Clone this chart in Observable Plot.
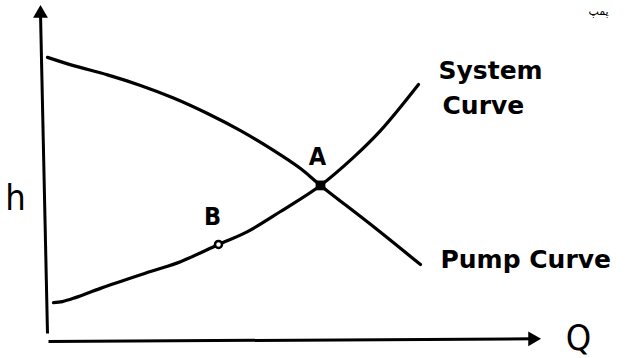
<!DOCTYPE html>
<html>
<head>
<meta charset="utf-8">
<script src="https://cdn.jsdelivr.net/npm/d3@7"></script>
<script src="https://cdn.jsdelivr.net/npm/@observablehq/plot@0.6"></script>
<style>
  html, body { margin: 0; padding: 0; background: #fff; }
</style>
</head>
<body>
<div id="chart"></div>
<script>
// Pump curve (head falls with flow)
const pumpQ = [0.6, 5.8, 12.6, 19.2, 25.8, 32.6, 39.2, 45.8, 51.2, 55.2, 65.2, 75.2];
const pumpH = [86.1, 83.6, 80.8, 77.6, 73.8, 69.1, 63.9, 57.9, 52.4, 47.3, 35.5, 23.3];

// System curve (head rises with flow)
const sysQ = [1.8, 3.6, 6.2, 11.2, 21.2, 27.2, 34.8, 40.6, 47.2, 55.2, 61.8, 67.2, 74.8];
const sysH = [11.8, 12.1, 13.3, 16.1, 21.2, 24.2, 29.4, 33.3, 39.4, 47.3, 55.8, 63.9, 77.9];

// Operating point A and point B
const pointNames = ["A", "B"];
const pointQ = [55.2, 34.8];
const pointH = [47.3, 29.4];

// Axes (start -> arrow head), in data units
const axisNames = ["h", "Q"];
const axisQ1 = [0.6, 0.8];
const axisH1 = [2.4, 0.0];
const axisQ2 = [-0.8, 97.6];
const axisH2 = [99.4, 0.8];
const axisHeadAngle = [0, 90];

// Labels
const curveLabels = ["System", "Curve", "Pump Curve"];
const curveLabelQ = [78.8, 79.6, 79.2];
const curveLabelH = [82.1, 71.5, 24.8];

const pointLabelQ = [54.6, 33.6];
const pointLabelH = [55.8, 37.6];

const axisLabelQ = [-5.8, 106.8];
const axisLabelH = [43.3, 0.9];

const noteText = ["پمپ"];
const noteQ = [110.8];
const noteH = [100.0];

const pump = pumpQ.map((q, i) => ({q, h: pumpH[i]}));
const system = sysQ.map((q, i) => ({q, h: sysH[i]}));
const points = pointNames.map((n, i) => ({n, q: pointQ[i], h: pointH[i]}));
const axes = axisNames.map((n, i) => ({n, q1: axisQ1[i], h1: axisH1[i], q2: axisQ2[i], h2: axisH2[i], a: axisHeadAngle[i]}));
const cLabels = curveLabels.map((t, i) => ({t, q: curveLabelQ[i], h: curveLabelH[i]}));
const pLabels = pointNames.map((t, i) => ({t, q: pointLabelQ[i], h: pointLabelH[i]}));
const aLabels = axisNames.map((t, i) => ({t, q: axisLabelQ[i], h: axisLabelH[i]}));
const notes = noteText.map((t, i) => ({t, q: noteQ[i], h: noteH[i]}));

const chart = Plot.plot({
  width: 628,
  height: 358,
  marginTop: 0, marginRight: 0, marginBottom: 0, marginLeft: 0,
  style: {background: "#fff", fontFamily: "DejaVu Sans"},
  x: {domain: [0, 100], range: [44, 544], axis: null},
  y: {domain: [0, 100], range: [341, 11], axis: null},
  marks: [
    Plot.link(axes, {x1: "q1", y1: "h1", x2: "q2", y2: "h2", stroke: "#000", strokeWidth: 3}),
    Plot.dot(axes, {x: "q2", y: "h2", symbol: "triangle", r: 5.5, fill: "#000", rotate: "a"}),
    Plot.line(pump, {x: "q", y: "h", curve: "catmull-rom", stroke: "#000", strokeWidth: 3.2}),
    Plot.line(system, {x: "q", y: "h", curve: "catmull-rom", stroke: "#000", strokeWidth: 3.2}),
    Plot.dot(points.filter(d => d.n === "A"), {x: "q", y: "h", symbol: "square", r: 5.5, fill: "#000"}),
    Plot.dot(points.filter(d => d.n === "B"), {x: "q", y: "h", r: 3.5, fill: "#fff", stroke: "#000", strokeWidth: 2.5}),
    Plot.text(cLabels, {
      x: "q", y: "h", text: "t", textAnchor: "start", lineAnchor: "middle",
      fontSize: 25, fontWeight: "bold", fill: "#000", fontFamily: "DejaVu Sans"
    }),
    Plot.text(pLabels, {
      x: "q", y: "h", text: "t", textAnchor: "middle", lineAnchor: "middle",
      fontSize: 25, fontWeight: "bold", fill: "#000", fontFamily: "DejaVu Sans Condensed"
    }),
    Plot.text(aLabels, {
      x: "q", y: "h", text: "t", textAnchor: "middle", lineAnchor: "middle",
      fontSize: 36, fill: "#000", fontFamily: "DejaVu Sans Condensed"
    }),
    Plot.text(notes, {
      x: "q", y: "h", text: "t", textAnchor: "middle", lineAnchor: "middle",
      fontSize: 11, fill: "#000", fontFamily: "DejaVu Sans"
    })
  ]
});

document.getElementById("chart").appendChild(chart);
</script>
</body>
</html>
